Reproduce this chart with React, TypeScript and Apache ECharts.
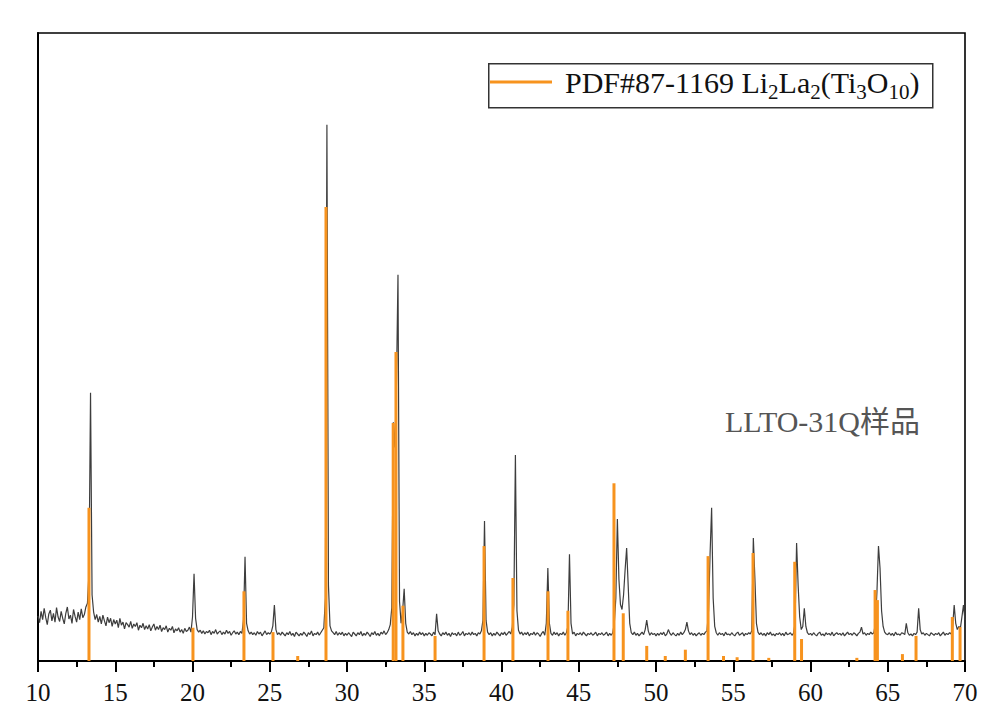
import React, { useEffect, useRef } from "react";
import * as echarts from "echarts";

// Sample pattern: measured intensity sampled every 0.1° from 10° to 70° (2θ)
const TWO_THETA_START = 10;
const TWO_THETA_STEP = 0.1;
const sampleIntensity: number[] = [
  // 10
  7.2, 6.1, 7.9, 6.6, 8.4, 6.9, 5.8, 7.5, 8.1, 6.4,
  // 11
  7.6, 6.2, 8.5, 7.0, 6.3, 7.9, 6.8, 5.9, 7.6, 8.6,
  // 12
  6.7, 7.3, 6.0, 8.2, 7.1, 6.2, 7.8, 6.6, 8.3, 6.9,
  // 13
  7.4, 8.6, 9.2, 14.0, 42.7, 10.5, 7.8, 6.6, 7.4, 6.2,
  // 14
  7.1, 5.9, 7.3, 6.4, 5.6, 7.0, 6.1, 6.8, 5.5, 6.6,
  // 15
  5.9, 6.5, 5.3, 6.8, 5.7, 6.2, 5.1, 6.1, 5.8, 5.4,
  // 16
  6.3, 5.2, 5.9, 5.5, 6.1, 4.9, 5.7, 5.3, 6.0, 5.0,
  // 17
  5.6, 5.1, 5.8, 4.8, 5.4, 5.9, 4.9, 5.5, 5.0, 5.7,
  // 18
  4.7, 5.3, 5.0, 5.6, 4.6, 5.2, 4.9, 5.5, 4.5, 5.1,
  // 19
  4.8, 5.3, 4.6, 5.0, 4.4, 5.2, 4.7, 4.9, 5.4, 4.6,
  // 20
  7.0, 13.9, 6.8, 5.0, 4.6, 4.9, 4.4, 4.8, 4.3, 4.7,
  // 21
  4.5, 4.9, 4.2, 4.7, 4.4, 5.0, 4.3, 4.6, 4.8, 4.2,
  // 22
  4.6, 4.3, 4.9, 4.4, 4.7, 4.1, 4.5, 4.8, 4.3, 4.6,
  // 23
  4.2, 4.7, 4.4, 6.5, 16.6, 6.0, 4.8, 4.3, 4.6, 4.2,
  // 24
  4.5, 4.1, 4.7, 4.3, 4.6, 4.0, 4.4, 4.8, 4.2, 4.5,
  // 25
  4.3, 4.6, 5.6, 8.9, 5.0, 4.2, 4.5, 4.1, 4.6, 4.3,
  // 26
  4.0, 4.5, 4.2, 4.7, 4.1, 4.4, 3.9, 4.6, 4.3, 4.0,
  // 27
  4.4, 4.1, 4.6, 4.3, 3.9, 4.5, 4.2, 4.8, 4.0, 4.4,
  // 28
  4.2, 4.6, 4.1, 4.5, 4.9, 5.3, 10.0, 85.4, 12.0, 5.6,
  // 29
  4.8, 4.5, 4.2, 4.7, 4.1, 4.5, 4.2, 4.6, 4.0, 4.4,
  // 30
  4.1, 4.5, 4.2, 3.9, 4.6, 4.3, 4.0, 4.5, 4.2, 4.7,
  // 31
  4.0, 4.4, 4.1, 4.6, 4.3, 3.9, 4.5, 4.2, 4.7, 4.1,
  // 32
  4.4, 4.0, 4.6, 4.3, 4.8, 4.2, 4.5, 5.0, 5.8, 8.5,
  // 33
  38.0, 34.0, 44.0, 61.5, 9.5, 6.0, 8.0, 11.5, 6.0, 4.6,
  // 34
  4.3, 4.7, 4.2, 4.5, 4.0, 4.4, 4.1, 4.6, 4.2, 4.5,
  // 35
  4.0, 4.4, 4.1, 4.5, 4.3, 4.0, 4.6, 4.2, 7.5, 4.8,
  // 36
  4.3, 4.0, 4.5, 4.2, 4.6, 4.1, 4.4, 3.9, 4.5, 4.2,
  // 37
  4.4, 4.0, 4.6, 4.1, 4.3, 4.7, 4.0, 4.4, 4.2, 4.5,
  // 38
  4.1, 4.6, 4.2, 4.4, 4.0, 4.5, 4.3, 4.8, 6.5, 22.3,
  // 39
  6.5, 4.6, 4.2, 4.5, 4.0, 4.4, 4.1, 4.6, 4.3, 4.0,
  // 40
  4.5, 4.2, 4.6, 4.1, 4.4, 4.7, 4.3, 5.4, 9.0, 32.8,
  // 41
  8.0, 4.9, 4.3, 4.6, 4.1, 4.5, 4.2, 4.6, 4.0, 4.4,
  // 42
  4.2, 4.6, 4.1, 4.5, 4.3, 3.9, 4.4, 4.7, 4.1, 6.0,
  // 43
  14.8, 6.0, 4.4, 4.1, 4.6, 4.2, 4.5, 4.0, 4.4, 4.2,
  // 44
  4.6, 4.1, 4.5, 5.5, 17.0, 6.0, 4.3, 4.6, 4.0, 4.4,
  // 45
  4.2, 4.5, 4.1, 4.6, 4.3, 4.0, 4.4, 4.2, 4.5, 4.1,
  // 46
  4.3, 4.6, 4.0, 4.4, 4.2, 4.5, 4.1, 4.3, 4.6, 4.0,
  // 47
  4.4, 4.1, 4.5, 6.0, 10.0, 22.6, 13.0, 9.0, 8.2, 10.5,
  // 48
  14.5, 18.0, 12.0, 6.0, 4.5, 4.2, 4.6, 4.1, 4.4, 4.0,
  // 49
  4.3, 4.6, 4.2, 5.0, 6.5, 4.8, 4.1, 4.5, 4.2, 4.4,
  // 50
  4.0, 4.4, 4.1, 4.5, 4.2, 4.6, 4.0, 4.3, 5.0, 4.4,
  // 51
  4.1, 4.5, 4.2, 4.0, 4.4, 4.1, 4.6, 4.2, 4.5, 5.0,
  // 52
  6.2, 4.8, 4.2, 4.5, 4.1, 4.4, 4.0, 4.3, 4.5, 4.1,
  // 53
  4.4, 4.2, 4.6, 4.8, 8.0, 17.0, 24.4, 10.0, 5.5, 4.5,
  // 54
  4.1, 4.5, 4.2, 4.4, 4.0, 4.6, 4.2, 4.3, 4.1, 4.5,
  // 55
  4.2, 4.0, 4.4, 4.6, 4.1, 4.3, 4.5, 4.0, 4.4, 4.2,
  // 56
  4.5, 4.3, 4.8, 19.6, 13.2, 6.0, 4.6, 4.2, 4.5, 4.1,
  // 57
  4.4, 4.0, 4.5, 4.2, 4.6, 4.1, 4.3, 4.0, 4.4, 4.2,
  // 58
  4.5, 4.1, 4.4, 4.0, 4.6, 4.2, 4.3, 4.5, 4.1, 4.4,
  // 59
  6.0, 18.8, 12.0, 7.0, 5.0, 5.5, 8.4, 5.5, 4.5, 4.2,
  // 60
  4.4, 4.1, 4.5, 4.2, 4.0, 4.4, 4.6, 4.1, 4.3, 4.0,
  // 61
  4.5, 4.2, 4.4, 4.1, 4.6, 4.0, 4.3, 4.5, 4.2, 4.4,
  // 62
  4.1, 4.5, 4.0, 4.3, 4.6, 4.2, 4.4, 4.1, 4.5, 4.3,
  // 63
  4.0, 4.4, 4.6, 5.4, 4.3, 4.5, 4.1, 4.4, 4.2, 4.6,
  // 64
  4.3, 4.5, 6.0, 11.0, 18.3, 14.8, 8.0, 5.5, 4.6, 4.3,
  // 65
  4.2, 4.5, 4.1, 4.4, 4.0, 4.6, 4.2, 4.3, 4.1, 4.5,
  // 66
  4.4, 4.2, 6.0, 4.5, 4.1, 4.3, 4.0, 4.4, 4.2, 4.6,
  // 67
  8.4, 5.0, 4.3, 4.5, 4.1, 4.4, 4.2, 4.0, 4.5, 4.3,
  // 68
  4.1, 4.4, 4.2, 4.5, 4.0, 4.3, 4.6, 4.1, 4.4, 4.2,
  // 69
  4.5, 4.3, 5.5, 8.9, 6.0, 5.0, 5.5, 5.2, 7.0, 8.9,
  // 70
  6.5,
];

// Reference card PDF#87-1169 Li2La2(Ti3O10): stick positions (2θ) and relative intensities
const pdfPositions: number[] = [
  13.3, 20.03, 23.33, 25.21, 26.81, 28.64, 32.99, 33.17, 33.62, 35.7,
  38.87, 40.74, 43.01, 44.3, 47.28, 47.88, 49.4, 50.6, 51.9, 53.37,
  54.37, 55.25, 56.28, 57.3, 58.98, 59.42, 63.0, 64.18, 64.33, 65.95,
  66.83, 69.18, 69.68,
];
const pdfIntensities: number[] = [
  24.4, 5.3, 11.1, 4.6, 0.8, 72.3, 37.9, 49.2, 8.8, 4.0,
  18.3, 13.2, 11.1, 8.0, 28.3, 7.6, 2.4, 0.8, 1.8, 16.7,
  0.8, 0.6, 17.2, 0.5, 15.8, 3.5, 0.5, 11.3, 9.7, 1.1,
  4.0, 7.0, 5.4,
];

const xTicks = { min: 10, max: 70, interval: 5 };
const legendName = "PDF#87-1169 Li2La2(Ti3O10)";
const sampleLabel = "LLTO-31Q样品";

const SERIF = "'Liberation Serif', 'Times New Roman', serif";
const CJK = "'Liberation Serif', 'Noto Sans CJK SC', serif";

export default function App() {
  const ref = useRef<HTMLDivElement>(null);

  useEffect(() => {
    if (!ref.current) return;
    const chart = echarts.init(ref.current, null, { renderer: "svg" });

    const lineData = sampleIntensity.map((v, i) => [
      +(TWO_THETA_START + i * TWO_THETA_STEP).toFixed(2),
      v,
    ]);
    const stickData = pdfPositions.map((x, i) => [x, pdfIntensities[i]]);

    chart.setOption({
      animation: false,
      backgroundColor: "#ffffff",
      grid: {
        left: 38,
        right: 43,
        top: 33,
        bottom: 48,
        show: true,
        borderColor: "#000",
        borderWidth: 1.6,
        backgroundColor: "transparent",
      },
      legend: {
        left: 490,
        top: 62,
        padding: 0,
        icon: "rect",
        itemWidth: 62,
        itemHeight: 3,
        data: [legendName],
        formatter: () => "PDF#87-1169 Li{s|2}La{s|2}(Ti{s|3}O{s|10})",
        textStyle: {
          fontFamily: SERIF,
          fontSize: 30,
          color: "#111",
          lineHeight: 40,
          padding: [0, 0, 0, 8],
          rich: {
            s: {
              fontFamily: SERIF,
              fontSize: 21,
              color: "#111",
              lineHeight: 16,
              verticalAlign: "bottom",
            },
          },
        },
      },
      xAxis: {
        type: "value",
        min: xTicks.min,
        max: xTicks.max,
        interval: xTicks.interval,
        axisLine: { show: true, lineStyle: { color: "#000", width: 2 } },
        axisTick: { show: true, inside: false, length: 11, lineStyle: { color: "#000", width: 2 } },
        minorTick: { show: true, splitNumber: 2, length: 6, lineStyle: { color: "#000", width: 2 } },
        splitLine: { show: false },
        minorSplitLine: { show: false },
        axisLabel: {
          margin: 19,
          fontFamily: SERIF,
          fontSize: 25,
          color: "#111",
        },
      },
      yAxis: {
        type: "value",
        min: 0,
        max: 100,
        axisLine: { show: true, lineStyle: { color: "#000", width: 2 } },
        axisTick: { show: false },
        axisLabel: { show: false },
        splitLine: { show: false },
      },
      series: [
        {
          name: "sample",
          type: "line",
          data: lineData,
          symbol: "none",
          z: 2,
          lineStyle: { color: "#3d3d3d", width: 1.2 },
        },
        {
          name: legendName,
          type: "bar",
          data: stickData,
          barWidth: 3,
          z: 3,
          itemStyle: { color: "#f7931e" },
        },
      ],
      graphic: [
        {
          type: "rect",
          left: 488,
          top: 63,
          z: 0,
          shape: { width: 444, height: 44 },
          style: { fill: "#fff", stroke: "#333", lineWidth: 1.5 },
        },
        {
          type: "text",
          left: 725,
          top: 406,
          style: {
            text: sampleLabel,
            fontFamily: CJK,
            fontSize: 30,
            fill: "#555",
          },
        },
      ],
    });

    return () => chart.dispose();
  }, []);

  return <div ref={ref} style={{ width: 1008, height: 709, margin: -8 }} />;
}
